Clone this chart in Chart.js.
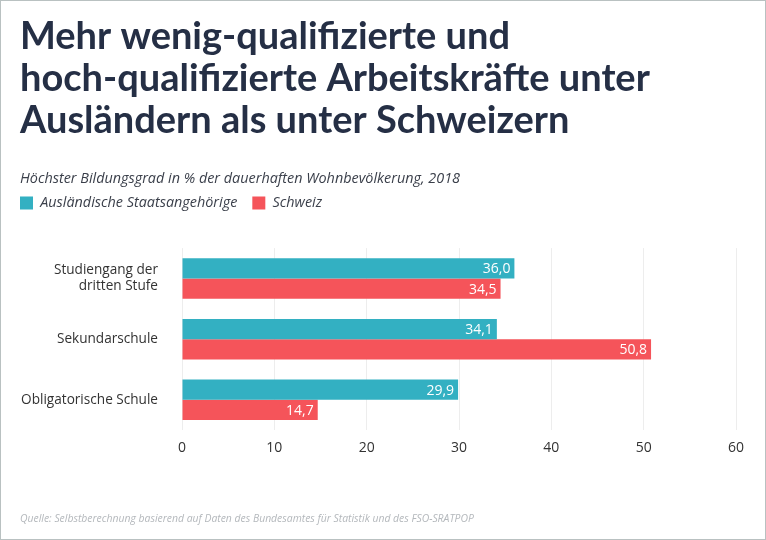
<!DOCTYPE html>
<html>
<head>
<meta charset="utf-8">
<script src="https://cdn.jsdelivr.net/npm/chart.js@4"></script>
<style>
  html, body { margin: 0; padding: 0; background: #fff; }
  #rahmen {
    position: relative;
    width: 766px; height: 540px;
    box-sizing: border-box;
    border: 1px solid #b9c1c1;
  }
  #quelle {
    position: absolute; left: 19px; top: 510px;
    font: italic 10.4px "Open Sans", sans-serif; color: #b4b8bc;
  }
</style>
</head>
<body>
<div id="rahmen">
  <canvas id="grafik" width="764" height="538"></canvas>
  <div id="quelle">Quelle: Selbstberechnung basierend auf Daten des Bundesamtes für Statistik und des FSO-SRATPOP</div>
</div>
<script>
const kategorien = [['Studiengang der', 'dritten Stufe'], 'Sekundarschule', 'Obligatorische Schule'];
const auslaender = [36.0, 34.1, 29.9];
const schweiz = [34.5, 50.8, 14.7];
const achsenTicks = [0, 10, 20, 30, 40, 50, 60];

const zahl = v => v.toFixed(1).replace('.', ',');
const schrift = 'Open Sans';

// Werte in die Balken schreiben
const werteImBalken = {
  id: 'werteImBalken',
  afterDatasetsDraw(chart) {
    const ctx = chart.ctx;
    ctx.save();
    ctx.font = '14px "Open Sans", sans-serif';
    ctx.fillStyle = '#fff';
    ctx.textAlign = 'right';
    ctx.textBaseline = 'middle';
    chart.data.datasets.forEach((ds, i) => {
      chart.getDatasetMeta(i).data.forEach((bar, j) => {
        ctx.fillText(zahl(ds.data[j]), bar.x - 4, bar.y + 1);
      });
    });
    ctx.restore();
  }
};

// Legende etwas nach links/oben ruecken, Abstand zum Diagramm vergroessern
const legendeVerschieben = {
  id: 'legendeVerschieben',
  beforeInit(chart) {
    const fit = chart.legend.fit;
    chart.legend.fit = function () {
      fit.call(this);
      this.height += 21;
    };
  },
  afterLayout(chart) {
    const lg = chart.legend;
    lg.left -= 15; lg.right -= 15;
    lg.top -= 7; lg.bottom -= 7;
  }
};

new Chart(document.getElementById('grafik'), {
  type: 'bar',
  data: {
    labels: kategorien,
    datasets: [{
      label: 'Ausländische Staatsangehörige',
      data: auslaender,
      backgroundColor: '#33b0c2'
    }, {
      label: 'Schweiz',
      data: schweiz,
      backgroundColor: '#f5545a'
    }]
  },
  options: {
    indexAxis: 'y',
    responsive: false,
    animation: false,
    categoryPercentage: 0.667,
    barPercentage: 1,
    layout: { padding: { left: 19, right: 29, top: 15, bottom: 74 } },
    scales: {
      x: {
        min: 0, max: 60,
        afterBuildTicks: axis => { axis.ticks = achsenTicks.map(v => ({ value: v })); },
        grid: { color: '#ededed', drawTicks: false },
        border: { display: false },
        ticks: { padding: 9, color: '#333', font: { family: schrift, size: 14 } }
      },
      y: {
        grid: { display: false },
        border: { display: false },
        afterFit: axis => { axis.width = 162; },
        ticks: { padding: 16, color: '#333', font: { family: schrift, size: 13.6 } }
      }
    },
    plugins: {
      title: {
        display: true,
        align: 'start',
        text: ['Mehr wenig-qualifizierte und', 'hoch-qualifizierte Arbeitskräfte unter', 'Ausländern als unter Schweizern'],
        color: '#252f45',
        font: { family: 'Lato', size: 38, weight: 'bold', lineHeight: 1.1 },
        padding: { top: 0, bottom: 29 }
      },
      subtitle: {
        display: true,
        align: 'start',
        text: 'Höchster Bildungsgrad in % der dauerhaften Wohnbevölkerung, 2018',
        color: '#3a3f4a',
        font: { family: schrift, size: 14.4, style: 'italic' },
        padding: { top: 0, bottom: 0 }
      },
      legend: {
        align: 'start',
        labels: {
          boxWidth: 13, boxHeight: 13,
          color: '#3a3f4a',
          font: { family: schrift, size: 14.4, style: 'italic' },
          padding: 15
        }
      },
      tooltip: { enabled: false }
    }
  },
  plugins: [werteImBalken, legendeVerschieben]
});
</script>
</body>
</html>
